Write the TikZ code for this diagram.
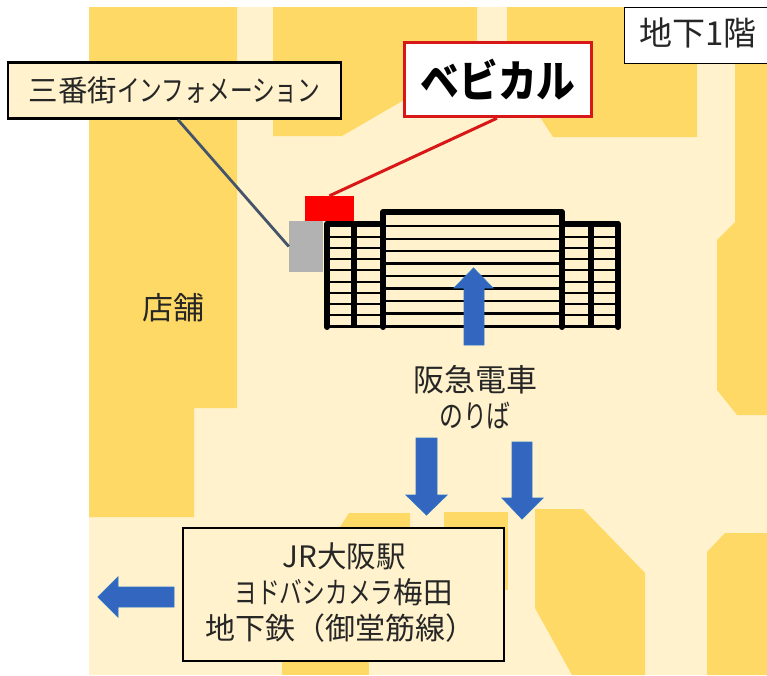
\documentclass[tikz,border=0pt]{standalone}
\usepackage{graphicx}
\usepackage{fontspec}
\setmainfont{Noto Sans CJK JP}
\definecolor{cream}{HTML}{FFF2CC}
\definecolor{shop}{HTML}{FFD966}
\definecolor{arrowblue}{HTML}{3366BF}
\definecolor{arrowedge}{HTML}{2E75C6}
\definecolor{inkdark}{HTML}{262626}
\definecolor{bevred}{HTML}{D81818}
\definecolor{slateline}{HTML}{44546A}
\definecolor{greybox}{HTML}{B2B2B2}
\tikzset{
  shopblock/.style={fill=shop,draw=none},
  flowarrow/.style={fill=arrowblue,draw=arrowedge,line width=0.8pt,line join=miter},
  labelbox/.style={draw=black,line width=2.6pt,fill=cream,text=inkdark,inner sep=0pt,align=center},
  esc/.style={draw=black,line width=6pt},
  escrail/.style={draw=black,line width=2.4pt},
  maptext/.style={text=inkdark,inner sep=0pt,align=center}
}
\begin{document}
\begin{tikzpicture}[x=1pt,y=-1pt]
\useasboundingbox (0,0) rectangle (767,675);
\fill[white] (0,0) rectangle (767,675);
\fill[cream] (89,7) rectangle (767,675);
% shops
\path[shopblock] (89,7) -- (237,7) -- (237,408) -- (194,408) -- (194,517) -- (89,517) -- cycle;
\path[shopblock] (273,7) -- (477,7) -- (477,100) -- (404,100) -- (342,136) -- (273,136) -- cycle;
\path[shopblock] (507,7) -- (697,7) -- (697,137) -- (553,137) -- (540,117) -- (507,117) -- cycle;
\path[shopblock] (735,7) -- (767,7) -- (767,415) -- (737,415) -- (717,390) -- (717,240) -- (735,222) -- cycle;
\path[shopblock] (535,509) -- (583,509) -- (645,573) -- (645,675) -- (572,675) -- (535,608) -- cycle;
\path[shopblock] (707,552) -- (725,533) -- (767,533) -- (767,675) -- (707,675) -- cycle;
\path[shopblock] (444,512) -- (508,512) -- (508,590) -- (444,590) -- cycle;
\path[shopblock] (338,530) -- (349,513) -- (410,513) -- (410,540) -- (338,540) -- cycle;
\path[shopblock] (282,655) rectangle (369,675);
% escalator / stairs
\foreach \yy in {236.7,247.7,259,270,281.7,292.7,304,315}{
  \draw[escrail] (327,\yy) -- (383,\yy);
  \draw[escrail] (562,\yy) -- (618,\yy);
}
\foreach \yy in {226,238.7,251,263.5,276,288.5,301,313.5}{
  \draw[escrail] (383,\yy) -- (562,\yy);
}
\draw[draw=black,line width=2.6pt] (327,326.5) -- (618,326.5);
\draw[esc,line cap=round,line join=round] (327,327) -- (327,223.5) -- (383,223.5);
\draw[esc,line cap=round,line join=round] (383,327) -- (383,212) -- (562,212) -- (562,327);
\draw[esc,line cap=round,line join=round] (562,223.5) -- (618,223.5) -- (618,327);
\draw[esc] (354,223.5) -- (354,327);
\draw[esc] (591,223.5) -- (591,327);
% equipment
\node[fill=red,minimum width=49pt,minimum height=25pt,inner sep=0pt] (shopmark) at (329.5,208.5) {};
\node[fill=greybox,minimum width=34pt,minimum height=51pt,inner sep=0pt] (infomark) at (306,246.5) {};
% boxes
\node[labelbox,minimum width=333pt,minimum height=56pt,font=\fontsize{29.5}{32}\selectfont] (info) at (174.5,90.5) {三番街\scalebox{0.77}[1]{インフォメーション}};
\node[draw=bevred,line width=3.4pt,fill=white,minimum width=187pt,minimum height=74pt,inner sep=0pt,text=black,font=\fontsize{44}{48}\selectfont\bfseries] (bevi) at (498,79.5) {\scalebox{0.88}[1]{ベビカル}};
\node[draw=black,line width=1pt,fill=white,minimum width=150pt,minimum height=56pt,inner sep=0pt] (floorbox) at (699,35) {};
\node[maptext,font=\fontsize{33}{36}\selectfont,anchor=west] (floor) at (639,33) {地下1階};
\node[labelbox,minimum width=321pt,minimum height=133pt] (dest) at (343.5,594.5) {};
\node[maptext,font=\fontsize{29.5}{36}\selectfont] (d1) at (344,556) {JR大阪駅};
\node[maptext,font=\fontsize{29.5}{36}\selectfont] (d2) at (343.5,592) {\scalebox{0.77}[1]{ヨドバシカメラ}梅田};
\node[maptext,font=\fontsize{30}{36}\selectfont] (d3) at (340,628) {地下鉄（御堂筋線）};
% free text
\node[maptext,font=\fontsize{31}{34}\selectfont] (tenpo) at (173,308) {店舗};
\node[maptext,font=\fontsize{31}{34}\selectfont] (hankyu) at (475,380) {阪急電車};
\node[maptext,font=\fontsize{31}{34}\selectfont] (noriba) at (475,416) {\scalebox{0.77}[1]{のりば}};
% connectors
\draw[bevred,line width=3pt] ([xshift=0pt]shopmark.north) -- ([xshift=-1pt]bevi.south);
\draw[slateline,line width=2.8pt] ([xshift=3.5pt]info.south) -- (infomark.west);
% arrows
\path[flowarrow] (473.5,268) -- (493,288) -- (484,288) -- (484,345) -- (464,345) -- (464,288) -- (454,288) -- cycle;
\path[flowarrow] (416,438) -- (437,438) -- (437,495) -- (447,495) -- (426.5,515) -- (406,495) -- (416,495) -- cycle;
\path[flowarrow] (512,442) -- (532,442) -- (532,498) -- (543,498) -- (522,519) -- (502,498) -- (512,498) -- cycle;
\path[flowarrow] (98,597) -- (118,577) -- (118,587) -- (174,587) -- (174,607) -- (118,607) -- (118,617) -- cycle;
\end{tikzpicture}
\end{document}
